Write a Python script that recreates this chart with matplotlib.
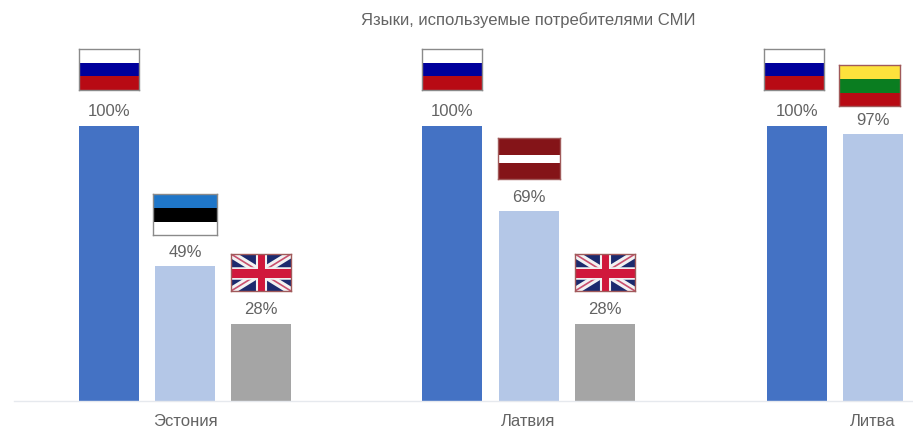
import matplotlib
matplotlib.use("Agg")
import matplotlib.pyplot as plt
from matplotlib.patches import Rectangle

countries = ["Эстония", "Латвия", "Литва"]
russian = [100, 100, 100]
local = [49, 69, 97]
english = [28, 28, None]
local_flags = ["ee", "lv", "lt"]
title = "Языки, используемые потребителями СМИ"

plt.rcParams['font.family'] = ['Liberation Sans', 'DejaVu Sans']
TEXT = "#636363"
W, H = 913, 431
BASE = 402
PCT = 2.75  # pixels per percent

STRIPES = {
    "ru": ["#ffffff", "#00009c", "#b80a14"],
    "ee": ["#1f76c8", "#000000", "#ffffff"],
    "lt": ["#fde23c", "#0a7d20", "#b80a14"],
    "lv": ["#841418", "#841418", "#ffffff", "#841418", "#841418"],
}

fig = plt.figure(figsize=(W / 100, H / 100), dpi=100)
ax = fig.add_axes([0, (H - BASE) / H, 1, 100 * PCT / H])
ax.set_xlim(0, W)
ax.set_ylim(0, 100)
ax.axis("off")
ax.plot([14, W], [0, 0], color="#e6e9ee", lw=1, clip_on=False)


def union_jack(fa):
    fa.set_xlim(0, 60)
    fa.set_ylim(0, 36)
    fa.add_patch(Rectangle((0, 0), 60, 36, color="#1c2a6e"))
    for a, b in [((0, 0), (60, 36)), ((0, 36), (60, 0))]:
        fa.plot(*zip(a, b), color="#f2f2f2", lw=5.5, solid_capstyle="butt")
        fa.plot(*zip(a, b), color="#c8506e", lw=1.2, solid_capstyle="butt")
    fa.plot([30, 30], [0, 36], color="#f2f2f2", lw=8, solid_capstyle="butt")
    fa.plot([0, 60], [18, 18], color="#f2f2f2", lw=9, solid_capstyle="butt")
    fa.plot([30, 30], [0, 36], color="#d0183c", lw=5, solid_capstyle="butt")
    fa.plot([0, 60], [18, 18], color="#d0183c", lw=6.5, solid_capstyle="butt")


def draw_flag(x, value, gap, height, code, width):
    y = value + gap / PCT
    fa = ax.inset_axes([x, y, width, height / PCT], transform=ax.transData)
    fa.set_xticks([])
    fa.set_yticks([])
    if code == "uk":
        union_jack(fa)
    else:
        colors = STRIPES[code]
        n = len(colors)
        fa.set_xlim(0, 1)
        fa.set_ylim(0, n)
        for i, c in enumerate(colors):
            fa.add_patch(Rectangle((0, n - i - 1), 1, 1, color=c, lw=0))
    edge = "#8a8a8a" if code in ("ru", "ee") else "#a05a5a"
    for s in fa.spines.values():
        s.set_color(edge)
        s.set_linewidth(1)


def draw_bar(x, value, color, code, gap, height, flag_dx=0, flag_w=60):
    ax.bar(x, value, width=60, align="edge", color=color, lw=0)
    ax.text(x + 30, value + 15 / PCT, f"{value}%", ha="center", va="center",
            color=TEXT, fontsize=12, clip_on=False)
    draw_flag(x + flag_dx, value, gap, height, code, flag_w)


starts = [79, 422, 767]
local_x = [155, 499, 843]
english_x = [231, 575, None]
label_x = [185, 528, 873]
ru_flag_dx = [0, 0, -3]
local_flag_dx = [-2, -1, -4]
local_flag_w = [64, 62, 61]
local_gap = [31, 32, 28]
for i, country in enumerate(countries):
    draw_bar(starts[i], russian[i], "#4472c4", "ru", 36, 41, ru_flag_dx[i])
    draw_bar(local_x[i], local[i], "#b4c7e7", local_flags[i], local_gap[i], 41,
             local_flag_dx[i], local_flag_w[i])
    if english[i] is not None:
        draw_bar(english_x[i], english[i], "#a5a5a5", "uk", 33, 37)
    fig.text(label_x[i] / W, 1 - 422 / H, country, ha="center", va="center",
             color=TEXT, fontsize=12)

fig.text(528.5 / W, 1 - 20 / H, title, ha="center", va="center", color=TEXT, fontsize=12)

fig.savefig("out.png", dpi=100)
